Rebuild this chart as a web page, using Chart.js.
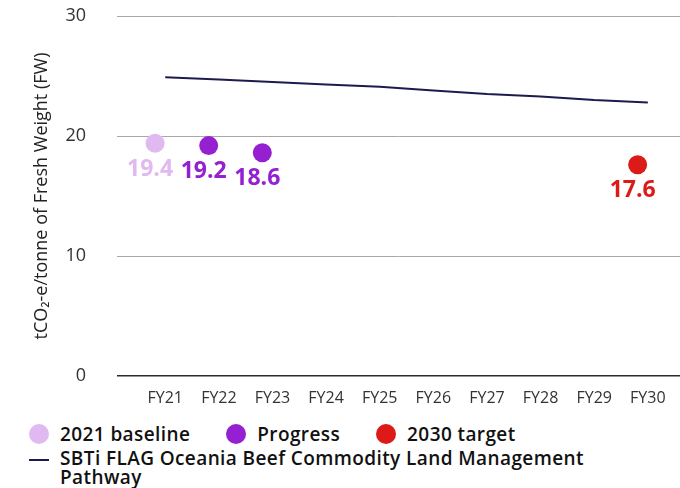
<!DOCTYPE html>
<html>
<head>
<meta charset="utf-8">
<script src="https://cdn.jsdelivr.net/npm/chart.js@4.4.1/dist/chart.umd.min.js"></script>
<style>
  body { margin: 0; background: #fff; font-family: "Open Sans", sans-serif; }
  .wrap { position: relative; width: 680px; height: 488px; }
  #chart { position: absolute; left: 0; top: 0; }
  .legend { position: absolute; left: 29px; top: 423px; color: #111; font-weight: 600; font-size: 19px; letter-spacing: 0.4px; }
  .row { display: flex; align-items: center; height: 22px; }
  .item { display: flex; align-items: center; margin-right: 36px; }
  .dot { width: 20px; height: 20px; border-radius: 50%; margin-right: 11px; }
  .line { width: 20px; height: 2px; background: #1c1b4d; margin-right: 11px; margin-top: 10px; flex: none; }
  .row2 { display: flex; margin-top: 4px; line-height: 19px; }
  .row2 span { width: 560px; }
</style>
</head>
<body>
<div class="wrap">
  <canvas id="chart" width="680" height="412"></canvas>
  <div class="legend">
    <div class="row">
      <div class="item"><div class="dot" style="background:#e0b9f1"></div>2021 baseline</div>
      <div class="item"><div class="dot" style="background:#9420d2"></div>Progress</div>
      <div class="item"><div class="dot" style="background:#dc1a17"></div>2030 target</div>
    </div>
    <div class="row2"><div class="line"></div><span>SBTi FLAG Oceania Beef Commodity Land Management Pathway</span></div>
  </div>
</div>
<script>
const years = [2021, 2022, 2023, 2024, 2025, 2026, 2027, 2028, 2029, 2030];
const pathway = [24.9, 24.7, 24.5, 24.3, 24.1, 23.8, 23.5, 23.3, 23.0, 22.8];
const baselineYears = [2021];
const baseline = [19.4];
const progressYears = [2022, 2023];
const progress = [19.2, 18.6];
const targetYears = [2030];
const target = [17.6];

const toPoints = (xs, ys) => xs.map((x, i) => ({ x: x, y: ys[i] }));

// value written under each dot, same colour as the dot
const valueLabels = {
  id: 'valueLabels',
  afterDatasetsDraw(chart) {
    const ctx = chart.ctx;
    ctx.save();
    ctx.font = 'bold 23px "Open Sans", sans-serif';
    ctx.textAlign = 'center';
    ctx.textBaseline = 'middle';
    chart.data.datasets.forEach((ds, i) => {
      if (!ds.labelColor) return;
      chart.getDatasetMeta(i).data.forEach((pt, j) => {
        ctx.fillStyle = ds.labelColor;
        ctx.fillText(ds.data[j].y.toFixed(1), pt.x - 5, pt.y + 26);
      });
    });
    ctx.restore();
  }
};

const ctx = document.getElementById('chart').getContext('2d');
const chart = new Chart(ctx, {
  type: 'scatter',
  data: {
    datasets: [
      {
        label: 'SBTi FLAG Oceania Beef Commodity Land Management Pathway',
        data: toPoints(years, pathway),
        showLine: true,
        borderColor: '#1c1b4d',
        borderWidth: 2,
        pointRadius: 0,
        xAxisID: 'x'
      },
      {
        label: '2021 baseline',
        data: toPoints(baselineYears, baseline),
        backgroundColor: '#e0b9f1',
        pointRadius: 9.5,
        pointBorderWidth: 0,
        labelColor: '#e0b9f1',
        xAxisID: 'xd'
      },
      {
        label: 'Progress',
        data: toPoints(progressYears, progress),
        backgroundColor: '#9420d2',
        pointRadius: 9.5,
        pointBorderWidth: 0,
        labelColor: '#9420d2',
        xAxisID: 'xd'
      },
      {
        label: '2030 target',
        data: toPoints(targetYears, target),
        backgroundColor: '#dc1a17',
        pointRadius: 9.5,
        pointBorderWidth: 0,
        labelColor: '#dc1a17',
        xAxisID: 'xd'
      }
    ]
  },
  options: {
    responsive: false,
    animation: false,
    layout: { autoPadding: false, padding: { left: 31, top: 16, right: 0, bottom: 2 } },
    plugins: { legend: { display: false }, tooltip: { enabled: false } },
    scales: {
      x: {
        type: 'linear',
        min: 2020.1,
        max: 2030.6,
        grid: { display: false, drawTicks: false },
        border: { display: false },
        ticks: {
          stepSize: 1,
          includeBounds: false,
          padding: 13,
          color: '#333',
          font: { family: '"Open Sans", sans-serif', size: 16 },
          callback: (v) => 'FY' + String(v).slice(2)
        },
        afterFit: (s) => { s.height = 34; s.paddingLeft = 0; s.paddingRight = 0; }
      },
      // dots sit a little left of the year ticks
      xd: {
        type: 'linear',
        display: false,
        min: 2020.29,
        max: 2030.79,
        ticks: { display: false }
      },
      y: {
        min: 0,
        max: 30,
        grid: {
          drawTicks: false,
          color: (c) => c.tick.value === 0 ? '#2a2a2a' : '#a8a8a8',
          lineWidth: (c) => c.tick.value === 0 ? 1.5 : 1
        },
        border: { display: false },
        ticks: {
          stepSize: 10,
          padding: 31,
          color: '#333',
          font: { family: '"Open Sans", sans-serif', size: 18 }
        },
        title: {
          display: true,
          text: 'tCO₂-e/tonne of Fresh Weight (FW)',
          color: '#222',
          padding: { top: 0, bottom: 0 },
          font: { family: '"Open Sans", sans-serif', size: 18 }
        },
        afterFit: (s) => { s.width = 86; s.paddingTop = 0; s.paddingBottom = 0; }
      }
    }
  },
  plugins: [valueLabels]
});
</script>
</body>
</html>
